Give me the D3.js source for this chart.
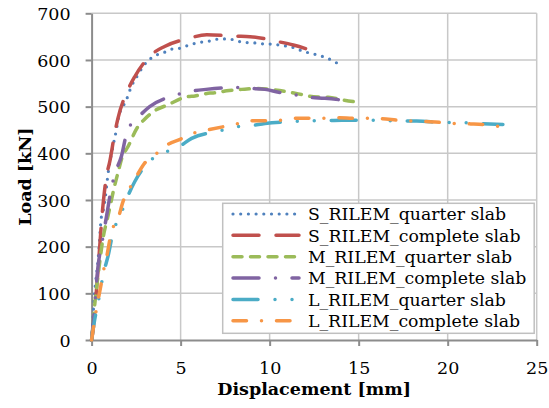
<!DOCTYPE html>
<html><head><meta charset="utf-8">
<script src="https://cdn.jsdelivr.net/npm/d3@7"></script>
<style>
html,body{margin:0;padding:0;background:#fff;}
svg{display:block;}
text{font-family:"DejaVu Serif",serif;fill:#000;}
</style></head>
<body>
<svg id="chart" width="549" height="408"></svg>
<script>
// ---- data (displacement [mm], load [kN]) ----
const seriesNames = ["S_RILEM_quarter slab","S_RILEM_complete slab","M_RILEM_quarter slab","M_RILEM_complete slab","L_RILEM_quarter slab","L_RILEM_complete slab"];
const xTicks = [0,5,10,15,20,25];
const yTicks = [0,100,200,300,400,500,600,700];

const sQuarter = [[0,0],[0.16,96],[0.38,179],[0.55,264],[0.68,282],[0.96,366],[1.2,415],[1.39,450],[1.52,478],[1.95,514],[2.23,543],[2.6,568],[2.89,586],[3.35,604],[3.73,612],[4.2,618],[4.57,624],[4.95,625],[5.32,630],[5.85,636],[6.28,639],[6.7,641],[7.16,645],[7.59,645],[8.02,643],[8.47,638],[8.9,637],[9.33,636],[9.78,634],[10.21,634],[10.64,631],[11.1,629],[11.52,624],[11.93,618],[12.36,614],[12.83,609],[13.24,604],[13.64,596],[14.05,589]];
const sComplete = [[0,0],[0.08,21],[0.3,120],[0.64,289],[0.83,350],[1.02,382],[1.3,443],[1.48,475],[2.04,536],[2.42,564],[3.35,611],[4.1,629],[5.42,646],[6.47,654],[8.06,651],[8.9,650],[10.5,639],[11.33,632],[12.83,614]];
const mQuarter = [[0,0],[0.2,85],[0.4,150],[0.66,222],[0.9,262],[1.27,327],[1.52,364],[1.7,390],[2.04,414],[2.6,457],[2.95,472],[3.54,491],[4.29,504],[5.32,521],[5.81,523],[6.65,529],[7.03,530],[7.59,534],[8.43,537],[9.33,539],[10.2,536],[10.96,532],[11.8,526],[12.46,521],[13.3,520],[14.14,514],[15.04,509]];
const mComplete = [[0,0],[0.1,40],[0.38,164],[0.57,205],[0.85,268],[1.13,329],[1.35,361],[1.67,393],[1.95,440],[2.2,462],[2.6,477],[3.26,500],[4.76,525],[5.6,533],[6.43,537],[8.06,541],[8.94,539],[9.74,537],[10.5,531],[11.33,526],[12.23,520],[13.1,518],[14.67,511]];
const lQuarter = [[0,0],[0.17,43],[0.36,79],[0.7,148],[0.92,179],[1.2,229],[1.3,241],[1.67,273],[2.0,305],[2.42,339],[3.35,386],[4.07,401],[4.9,414],[5.62,432],[7.21,448],[8.06,457],[8.94,459],[9.74,464],[11.33,468],[12.27,470],[13.17,470],[14.05,471],[15.64,471],[16.58,470],[17.4,469],[18.26,469],[19.85,466],[20.8,466],[21.7,464],[23.1,462]];
const lComplete = [[0,0],[0.08,21],[0.33,79],[0.51,114],[0.64,143],[0.83,175],[1.1,229],[1.52,264],[1.76,296],[2.04,318],[2.51,350],[2.98,379],[3.54,396],[4.24,418],[4.97,430],[5.71,443],[6.52,450],[7.4,457],[8.06,462],[9.0,470],[9.83,470],[10.58,471],[11.43,475],[12.27,475],[13.1,475],[13.92,476],[14.7,475],[15.64,475],[16.33,474],[17.2,471],[17.96,469],[18.8,468],[19.67,466],[20.4,464],[21.3,463],[22.2,461],[22.94,457]];

const seriesData = [sQuarter, sComplete, mQuarter, mComplete, lQuarter, lComplete];
const colors = ["#4F81BD","#C0504D","#9BBB59","#8064A2","#4BACC6","#F79646"];
const dashes = ["0,7.7","26,17","9,8.5","26,16.5,0,16.5","25,17,0,17,0,17","13.5,15,0,15"];

// ---- layout ----
const svg = d3.select("#chart");
const L = 91.6, R = 536.7, T = 13.3, B = 340;
const x = d3.scaleLinear().domain([0,25]).range([L,R]);
const y = d3.scaleLinear().domain([0,700]).range([B,T]);

// gridlines
const grid = svg.append("g");
grid.selectAll("line.h").data(yTicks.filter(d=>d>0)).enter().append("line")
  .attr("x1",L).attr("x2",R).attr("y1",d=>y(d)).attr("y2",d=>y(d))
  .attr("stroke","#c8c8c8").attr("stroke-width",1.5);
grid.selectAll("line.v").data(xTicks.filter(d=>d>0)).enter().append("line")
  .attr("y1",T).attr("y2",B).attr("x1",d=>x(d)).attr("x2",d=>x(d))
  .attr("stroke","#c8c8c8").attr("stroke-width",1.5);

// axes
const yAxis = svg.append("g").attr("transform",`translate(${L},0)`)
  .call(d3.axisLeft(y).tickValues(yTicks).tickSize(6).tickSizeOuter(0).tickPadding(15));
const xAxis = svg.append("g").attr("transform",`translate(0,${B})`)
  .call(d3.axisBottom(x).tickValues(xTicks).tickSize(6).tickSizeOuter(0).tickPadding(16));
[yAxis,xAxis].forEach(a=>{
  a.select(".domain").attr("stroke","#8c8c8c").attr("stroke-width",2);
  a.selectAll(".tick line").attr("stroke","#8c8c8c").attr("stroke-width",2);
  a.selectAll(".tick text").style("font-family","DejaVu Serif").style("font-size","17.5px").attr("fill","#000");
});
yAxis.selectAll(".tick text").attr("dy","0.36em");

// series
const line = d3.line().x(d=>x(d[0])).y(d=>y(d[1])).curve(d3.curveMonotoneX);
seriesData.forEach((s,i)=>{
  svg.append("path").datum(s).attr("d",line)
    .attr("fill","none").attr("stroke",colors[i]).attr("stroke-width",i===0?3.2:3.5)
    .attr("stroke-linecap","round").attr("stroke-dasharray",dashes[i]);
});

// axis titles
svg.append("text").attr("x",(L+R)/2).attr("y",395).attr("text-anchor","middle")
  .style("font-size","17.5px").style("font-weight","bold").text("Displacement [mm]");
svg.append("text").attr("transform",`translate(31,${(T+B)/2}) rotate(-90)`).attr("text-anchor","middle")
  .style("font-size","17.5px").style("font-weight","bold").text("Load [kN]");

// legend
const lg = svg.append("g");
lg.append("rect").attr("x",222.7).attr("y",203.3).attr("width",311.5).attr("height",130)
  .attr("fill","#fff").attr("stroke","#c0c0c0").attr("stroke-width",1.5);
seriesNames.forEach((n,i)=>{
  const cy = 214 + i*21.35;
  lg.append("line").attr("x1",233).attr("x2",299).attr("y1",cy).attr("y2",cy)
    .attr("stroke",colors[i]).attr("stroke-width",i===0?3.2:3.5).attr("stroke-linecap","round")
    .attr("stroke-dasharray",dashes[i]);
  lg.append("text").attr("x",308).attr("y",cy).attr("dy","0.36em")
    .style("font-size","17.3px").text(n);
});
</script>
</body></html>
